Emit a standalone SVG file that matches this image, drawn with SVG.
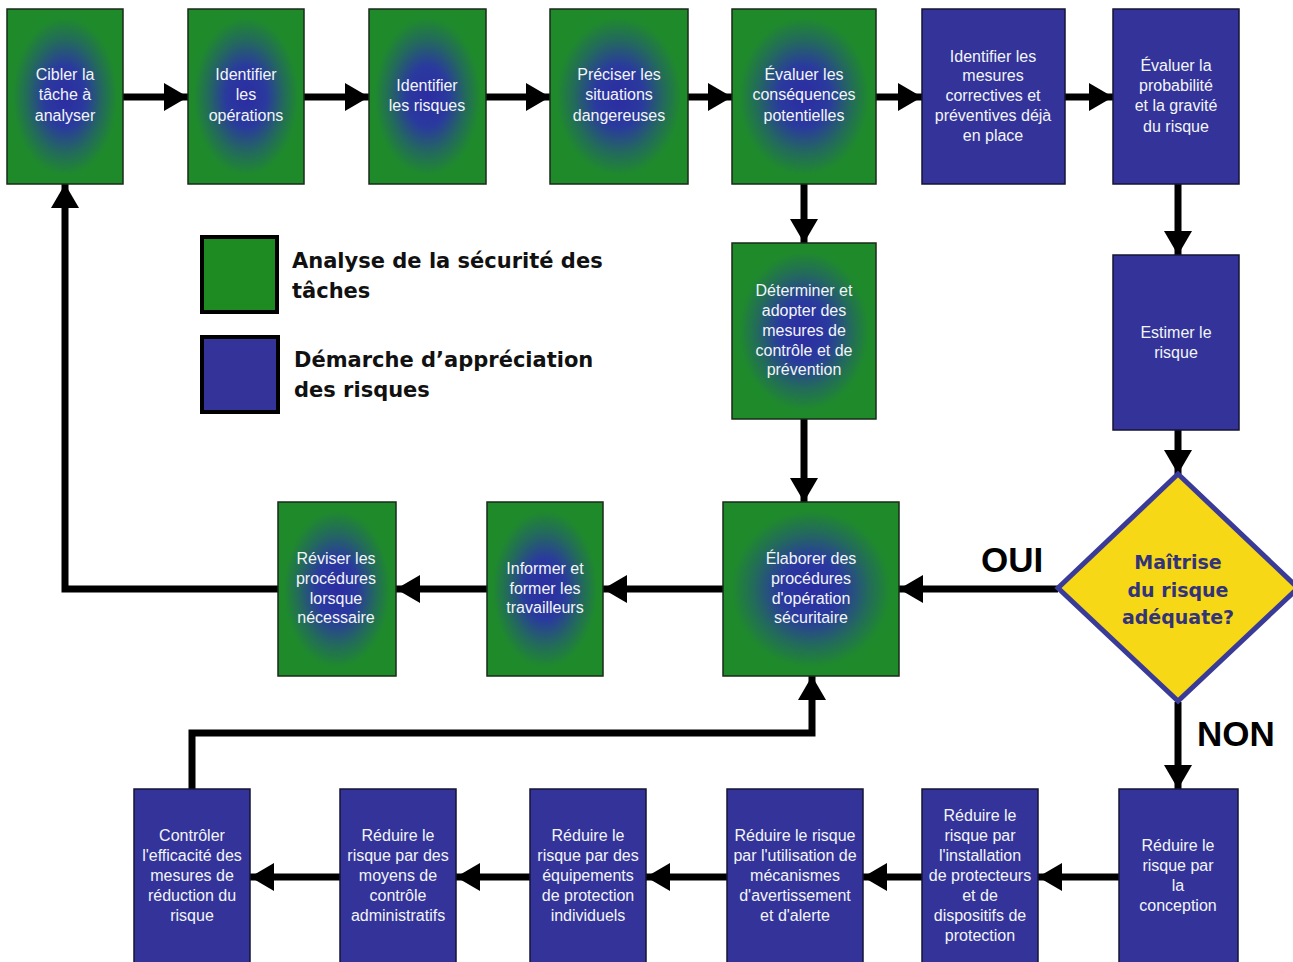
<svg xmlns="http://www.w3.org/2000/svg" width="1293" height="962" viewBox="0 0 1293 962">
<defs>
<radialGradient id="gg" cx="0.5" cy="0.5" r="0.5">
<stop offset="0" stop-color="#2c2ca2"/>
<stop offset="0.35" stop-color="#2a3a9e"/>
<stop offset="0.65" stop-color="#236a5c"/>
<stop offset="0.9" stop-color="#1f8a2c"/>
<stop offset="1" stop-color="#1f8a2a"/>
</radialGradient>
<marker id="ah" viewBox="0 0 24 28" refX="24" refY="14" markerWidth="24" markerHeight="28" markerUnits="userSpaceOnUse" orient="auto">
<path d="M0,0 L24,14 L0,28 z" fill="#000"/>
</marker>
<style>
.g{fill:url(#gg);stroke:#1a2a1a;stroke-width:1.5}
.b{fill:#333399;stroke:#151535;stroke-width:1.5}
.t{font-family:"Liberation Sans",Arial,sans-serif;font-size:16px;fill:#f2f5f8;text-anchor:middle}
.c{fill:none;stroke:#000;stroke-width:7;marker-end:url(#ah)}
.lg{font-family:"DejaVu Sans",Verdana,sans-serif;font-weight:bold;font-size:21px;fill:#111}
.dq{font-family:"DejaVu Sans",Verdana,sans-serif;font-weight:bold;font-size:19px;fill:#33337a;text-anchor:middle}
.ln{font-family:"Liberation Sans",Arial,sans-serif;font-weight:bold;font-size:35px;fill:#000}
</style>
</defs>
<rect width="1293" height="962" fill="#fff"/>

<g id="connectors">
<path class="c" d="M123,97 H188"/>
<path class="c" d="M304,97 H369"/>
<path class="c" d="M486,97 H550"/>
<path class="c" d="M688,97 H732"/>
<path class="c" d="M876,97 H922"/>
<path class="c" d="M1065,97 H1113"/>
<path class="c" d="M804,184 V243"/>
<path class="c" d="M1178,184 V255"/>
<path class="c" d="M804,419 V502"/>
<path class="c" d="M1178,430 V474"/>
<path class="c" d="M1058,589 H899"/>
<path class="c" d="M723,589 H603"/>
<path class="c" d="M487,589 H396"/>
<path class="c" d="M278,589 H65 V184"/>
<path class="c" d="M1178,702 V789"/>
<path class="c" d="M1119,877 H1038"/>
<path class="c" d="M922,877 H863"/>
<path class="c" d="M727,877 H646"/>
<path class="c" d="M530,877 H456"/>
<path class="c" d="M340,877 H250"/>
<path class="c" d="M192,789 V733 H812 V676"/>
</g>

<g id="n1"><rect class="g" x="7" y="9" width="116" height="175"/>
<text class="t"><tspan x="65" y="80">Cibler la</tspan><tspan x="65" y="100">tâche à</tspan><tspan x="65" y="121">analyser</tspan></text></g>
<g id="n2"><rect class="g" x="188" y="9" width="116" height="175"/>
<text class="t"><tspan x="246" y="80">Identifier</tspan><tspan x="246" y="100">les</tspan><tspan x="246" y="121">opérations</tspan></text></g>
<g id="n3"><rect class="g" x="369" y="9" width="117" height="175"/>
<text class="t"><tspan x="427" y="91">Identifier</tspan><tspan x="427" y="111">les risques</tspan></text></g>
<g id="n4"><rect class="g" x="550" y="9" width="138" height="175"/>
<text class="t"><tspan x="619" y="80">Préciser les</tspan><tspan x="619" y="100">situations</tspan><tspan x="619" y="121">dangereuses</tspan></text></g>
<g id="n5"><rect class="g" x="732" y="9" width="144" height="175"/>
<text class="t"><tspan x="804" y="80">Évaluer les</tspan><tspan x="804" y="100">conséquences</tspan><tspan x="804" y="121">potentielles</tspan></text></g>
<g id="n6"><rect class="b" x="922" y="9" width="143" height="175"/>
<text class="t"><tspan x="993" y="62">Identifier les</tspan><tspan x="993" y="81">mesures</tspan><tspan x="993" y="101">correctives et</tspan><tspan x="993" y="121">préventives déjà</tspan><tspan x="993" y="141">en place</tspan></text></g>
<g id="n7"><rect class="b" x="1113" y="9" width="126" height="175"/>
<text class="t"><tspan x="1176" y="71">Évaluer la</tspan><tspan x="1176" y="91">probabilité</tspan><tspan x="1176" y="111">et la gravité</tspan><tspan x="1176" y="132">du risque</tspan></text></g>

<g id="n8"><rect class="g" x="732" y="243" width="144" height="176"/>
<text class="t"><tspan x="804" y="296">Déterminer et</tspan><tspan x="804" y="316">adopter des</tspan><tspan x="804" y="336">mesures de</tspan><tspan x="804" y="356">contrôle et de</tspan><tspan x="804" y="375">prévention</tspan></text></g>
<g id="n9"><rect class="b" x="1113" y="255" width="126" height="175"/>
<text class="t"><tspan x="1176" y="338">Estimer le</tspan><tspan x="1176" y="358">risque</tspan></text></g>

<g id="legend">
<rect x="202" y="237" width="75" height="75" fill="#1e8a22" stroke="#000" stroke-width="4"/>
<rect x="202" y="337" width="76" height="75" fill="#333399" stroke="#000" stroke-width="4"/>
<text class="lg"><tspan x="292" y="268">Analyse de la sécurité des</tspan><tspan x="292" y="298">tâches</tspan></text>
<text class="lg"><tspan x="294" y="367">Démarche d’appréciation</tspan><tspan x="294" y="397">des risques</tspan></text>
</g>

<g id="n10"><rect class="g" x="278" y="502" width="118" height="174"/>
<text class="t"><tspan x="336" y="564">Réviser les</tspan><tspan x="336" y="584">procédures</tspan><tspan x="336" y="604">lorsque</tspan><tspan x="336" y="623">nécessaire</tspan></text></g>
<g id="n11"><rect class="g" x="487" y="502" width="116" height="174"/>
<text class="t"><tspan x="545" y="574">Informer et</tspan><tspan x="545" y="594">former les</tspan><tspan x="545" y="613">travailleurs</tspan></text></g>
<g id="n12"><rect class="g" x="723" y="502" width="176" height="174"/>
<text class="t"><tspan x="811" y="564">Élaborer des</tspan><tspan x="811" y="584">procédures</tspan><tspan x="811" y="604">d'opération</tspan><tspan x="811" y="623">sécuritaire</tspan></text></g>

<g id="decision">
<polygon points="1178,474 1298,588 1178,701 1058,588" fill="#f7d816" stroke="#3a3a98" stroke-width="5"/>
<text class="dq"><tspan x="1178" y="569">Maîtrise</tspan><tspan x="1178" y="597">du risque</tspan><tspan x="1178" y="624">adéquate?</tspan></text>
</g>
<text class="ln" x="981" y="572">OUI</text>
<text class="ln" x="1197" y="746">NON</text>

<g id="n13"><rect class="b" x="134" y="789" width="116" height="180"/>
<text class="t"><tspan x="192" y="841">Contrôler</tspan><tspan x="192" y="861">l'efficacité des</tspan><tspan x="192" y="881">mesures de</tspan><tspan x="192" y="901">réduction du</tspan><tspan x="192" y="921">risque</tspan></text></g>
<g id="n14"><rect class="b" x="340" y="789" width="116" height="180"/>
<text class="t"><tspan x="398" y="841">Réduire le</tspan><tspan x="398" y="861">risque par des</tspan><tspan x="398" y="881">moyens de</tspan><tspan x="398" y="901">contrôle</tspan><tspan x="398" y="921">administratifs</tspan></text></g>
<g id="n15"><rect class="b" x="530" y="789" width="116" height="180"/>
<text class="t"><tspan x="588" y="841">Réduire le</tspan><tspan x="588" y="861">risque par des</tspan><tspan x="588" y="881">équipements</tspan><tspan x="588" y="901">de protection</tspan><tspan x="588" y="921">individuels</tspan></text></g>
<g id="n16"><rect class="b" x="727" y="789" width="136" height="180"/>
<text class="t"><tspan x="795" y="841">Réduire le risque</tspan><tspan x="795" y="861">par l'utilisation de</tspan><tspan x="795" y="881">mécanismes</tspan><tspan x="795" y="901">d'avertissement</tspan><tspan x="795" y="921">et d'alerte</tspan></text></g>
<g id="n17"><rect class="b" x="922" y="789" width="116" height="180"/>
<text class="t"><tspan x="980" y="821">Réduire le</tspan><tspan x="980" y="841">risque par</tspan><tspan x="980" y="861">l'installation</tspan><tspan x="980" y="881">de protecteurs</tspan><tspan x="980" y="901">et de</tspan><tspan x="980" y="921">dispositifs de</tspan><tspan x="980" y="941">protection</tspan></text></g>
<g id="n18"><rect class="b" x="1119" y="789" width="119" height="180"/>
<text class="t"><tspan x="1178" y="851">Réduire le</tspan><tspan x="1178" y="871">risque par</tspan><tspan x="1178" y="891">la</tspan><tspan x="1178" y="911">conception</tspan></text></g>
</svg>
